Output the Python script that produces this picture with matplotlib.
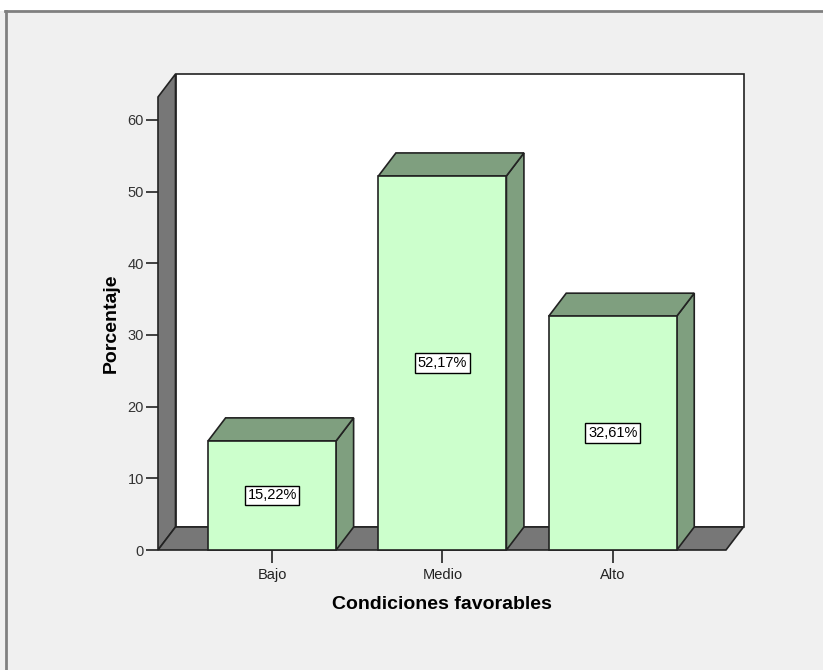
import matplotlib
matplotlib.use("Agg")
import matplotlib.pyplot as plt
from matplotlib.patches import Polygon, Rectangle
from matplotlib.lines import Line2D

plt.rcParams['font.family'] = ['Liberation Sans', 'DejaVu Sans']

categories = ["Bajo", "Medio", "Alto"]
percentages = [15.22, 52.17, 32.61]
value_labels = ["15,22%", "52,17%", "32,61%"]
y_ticks = [0, 10, 20, 30, 40, 50, 60]

W, H = 823, 670
fig = plt.figure(figsize=(W / 100, H / 100), dpi=100)
fig.patch.set_facecolor("#F0F0F0")

# outer frame lines (top and left), white strip above
fig.add_artist(Rectangle((0, (H - 11) / H), 1, 11 / H, transform=fig.transFigure,
                         facecolor="white", edgecolor="none", zorder=0))
fig.add_artist(Line2D([5.5 / W, 5.5 / W], [0, (H - 11) / H], transform=fig.transFigure,
                      color="#808080", lw=2))
fig.add_artist(Line2D([5 / W, 1], [(H - 11) / H, (H - 11) / H], transform=fig.transFigure,
                      color="#808080", lw=2))

# front plane of the 3D box in pixels
x_left_px, x_right_px = 158, 726
y_bot_px, y_top_px = 550, 97
ax = fig.add_axes([x_left_px / W, (H - y_bot_px) / H,
                   (x_right_px - x_left_px) / W, (y_bot_px - y_top_px) / H])
ax.set_facecolor("none")

xmin, xmax = -0.67, 2.665
ymin = 0
px_per_unit_y = 7.17
ymax = (y_bot_px - y_top_px) / px_per_unit_y
ax.set_xlim(xmin, xmax)
ax.set_ylim(ymin, ymax)

px_per_unit_x = (x_right_px - x_left_px) / (xmax - xmin)
dx = 17.5 / px_per_unit_x          # depth offset (x, data units)
dy = 23.0 / px_per_unit_y          # depth offset (y, data units)

edge = "#222222"
wall_grey = "#777777"
lw = 1.2

def poly(pts, fc, z):
    ax.add_patch(Polygon(pts, closed=True, facecolor=fc, edgecolor=edge,
                         linewidth=lw, joinstyle="miter", clip_on=False, zorder=z))

# back wall
poly([(xmin + dx, dy), (xmax + dx, dy), (xmax + dx, ymax + dy), (xmin + dx, ymax + dy)],
     "white", 1)
# left side wall
poly([(xmin, 0), (xmin + dx, dy), (xmin + dx, ymax + dy), (xmin, ymax)], wall_grey, 2)
# floor
poly([(xmin, 0), (xmax, 0), (xmax + dx, dy), (xmin + dx, dy)], wall_grey, 2)

# bars
bar_w = 128 / px_per_unit_x
front_c = "#CCFFCC"
side_c = "#7F9F7F"
for i, (v, lab) in enumerate(zip(percentages, value_labels)):
    x0, x1 = i - bar_w / 2, i + bar_w / 2
    poly([(x1, 0), (x1 + dx, dy), (x1 + dx, v + dy), (x1, v)], side_c, 3)
    poly([(x0, v), (x1, v), (x1 + dx, v + dy), (x0 + dx, v + dy)], side_c, 3)
    poly([(x0, 0), (x1, 0), (x1, v), (x0, v)], front_c, 4)
    ax.text(i, v / 2, lab, ha="center", va="center", fontsize=10.5, color="black",
            zorder=6,
            bbox=dict(boxstyle="square,pad=0.18", facecolor="white", edgecolor="black",
                      linewidth=1.0))

for s in ax.spines.values():
    s.set_visible(False)

ax.set_yticks(y_ticks)
ax.set_yticklabels([str(t) for t in y_ticks], fontsize=10.5, color="#333333")
ax.set_xticks(range(len(categories)))
ax.set_xticklabels(categories, fontsize=10.5, color="#222222")
ax.tick_params(axis="y", direction="out", length=9, width=1.2, color="#222222", pad=1)
ax.tick_params(axis="x", direction="out", length=9, width=1.2, color="#222222", pad=4)

ax.set_ylabel("Porcentaje", fontsize=14, fontweight="bold", labelpad=6)
ax.set_xlabel("Condiciones favorables", fontsize=14, fontweight="bold", labelpad=10)

fig.savefig("out.png", dpi=100, facecolor=fig.get_facecolor())
